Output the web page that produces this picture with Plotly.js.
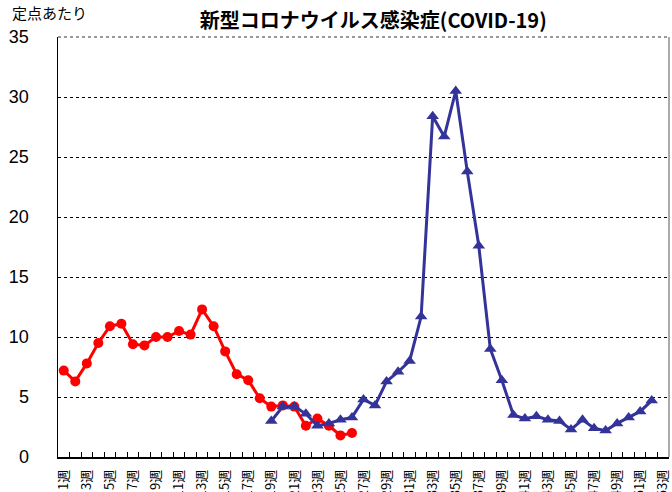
<!DOCTYPE html>
<html>
<head>
<meta charset="utf-8">
<script src="https://cdn.plot.ly/plotly-3.0.1.min.js"></script>
<style>
html,body{margin:0;padding:0;background:#fff;}
#chart{width:672px;height:492px;}
</style>
</head>
<body>
<div id="chart"></div>
<script>
const weeks = ["1週","2週","3週","4週","5週","6週","7週","8週","9週","10週",
  "11週","12週","13週","14週","15週","16週","17週","18週","19週","20週",
  "21週","22週","23週","24週","25週","26週","27週","28週","29週","30週",
  "31週","32週","33週","34週","35週","36週","37週","38週","39週","40週",
  "41週","42週","43週","44週","45週","46週","47週","48週","49週","50週",
  "51週","52週","53週"];
const tickLabels = ["1週","","3週","","5週","","7週","","9週","",
  "11週","","13週","","15週","","17週","","19週","",
  "21週","","23週","","25週","","27週","","29週","",
  "31週","","33週","","35週","","37週","","39週","",
  "41週","","43週","","45週","","47週","","49週","",
  "51週","","53週"];
// red series: weeks 1-26
const redValues = [7.2, 6.3, 7.8, 9.5, 10.9, 11.1, 9.4, 9.3, 10.0, 10.0,
  10.5, 10.2, 12.3, 10.9, 8.8, 6.9, 6.4, 4.9, 4.2, 4.3,
  4.2, 2.6, 3.2, 2.6, 1.8, 2.0,
  null, null, null, null, null, null, null, null, null, null,
  null, null, null, null, null, null, null, null, null, null,
  null, null, null, null, null, null, null];
// blue series: weeks 19-52
const blueValues = [null, null, null, null, null, null, null, null, null, null,
  null, null, null, null, null, null, null, null,
  3.0, 4.2, 4.2, 3.6, 2.6, 2.8, 3.1, 3.3, 4.8, 4.3,
  6.3, 7.1, 8.0, 11.7, 28.4, 26.7, 30.5, 23.8, 17.6, 9.0,
  6.4, 3.5, 3.2, 3.4, 3.1, 3.0, 2.3, 3.1, 2.4, 2.2,
  2.8, 3.3, 3.8, 4.7, null];

const traces = [
  {
    x: weeks, y: redValues, type: 'scatter', mode: 'lines+markers',
    line: {color: '#FF0000', width: 3},
    marker: {symbol: 'circle', size: 10, color: '#FF0000'},
    connectgaps: false, showlegend: false, hoverinfo: 'x+y'
  },
  {
    x: weeks, y: blueValues, type: 'scatter', mode: 'lines+markers',
    line: {color: '#333399', width: 3},
    marker: {symbol: 'triangle-up', size: 11, color: '#333399'},
    connectgaps: false, showlegend: false, hoverinfo: 'x+y'
  }
];

const layout = {
  width: 672, height: 492,
  margin: {l: 58, r: 3, t: 37, b: 35, pad: 0},
  paper_bgcolor: '#ffffff', plot_bgcolor: '#ffffff',
  title: {
    text: '<b>新型コロナウイルス感染症(COVID-19)</b>',
    font: {family: '"Noto Sans CJK JP", sans-serif', size: 20, color: '#000'},
    x: 0.516, xanchor: 'center', y: 0.958, yanchor: 'middle', xref: 'paper'
  },
  xaxis: {
    type: 'category',
    tickmode: 'array', tickvals: weeks, ticktext: tickLabels,
    tickson: 'boundaries', ticks: 'inside', ticklen: 5, tickwidth: 1, tickcolor: '#000',
    tickangle: -90, ticklabelstandoff: 6,
    tickfont: {family: '"Noto Sans CJK JP", sans-serif', size: 13, color: '#000'},
    showline: true, linecolor: '#000', linewidth: 1.5,
    showgrid: false, zeroline: false,
    range: [-0.5, 52.5], automargin: false, fixedrange: true
  },
  yaxis: {
    range: [0, 35], dtick: 5, tick0: 0,
    ticks: '', ticklabelstandoff: 24,
    tickfont: {family: '"Liberation Sans", Arial, sans-serif', size: 18, color: '#000'},
    showline: true, linecolor: '#000', linewidth: 1.5,
    showgrid: true, gridcolor: '#000', gridwidth: 1, griddash: 'dot',
    zeroline: false, automargin: false, fixedrange: true
  },
  shapes: [
    {type: 'line', xref: 'paper', yref: 'paper', x0: 1, x1: 1, y0: 0, y1: 1,
     line: {color: '#AAAAAA', width: 2}},
    {type: 'line', xref: 'paper', yref: 'paper', x0: 0, x1: 1, y0: 1, y1: 1,
     line: {color: '#999999', width: 2, dash: 'dot'}}
  ],
  annotations: [
    {text: '定点あたり', xref: 'paper', yref: 'paper', x: -0.078, y: 1.058,
     xanchor: 'left', yanchor: 'middle', showarrow: false,
     font: {family: '"Noto Sans CJK JP", sans-serif', size: 15, color: '#000'}}
  ]
};

Plotly.newPlot('chart', traces, layout, {displayModeBar: false, staticPlot: true});
</script>
</body>
</html>
